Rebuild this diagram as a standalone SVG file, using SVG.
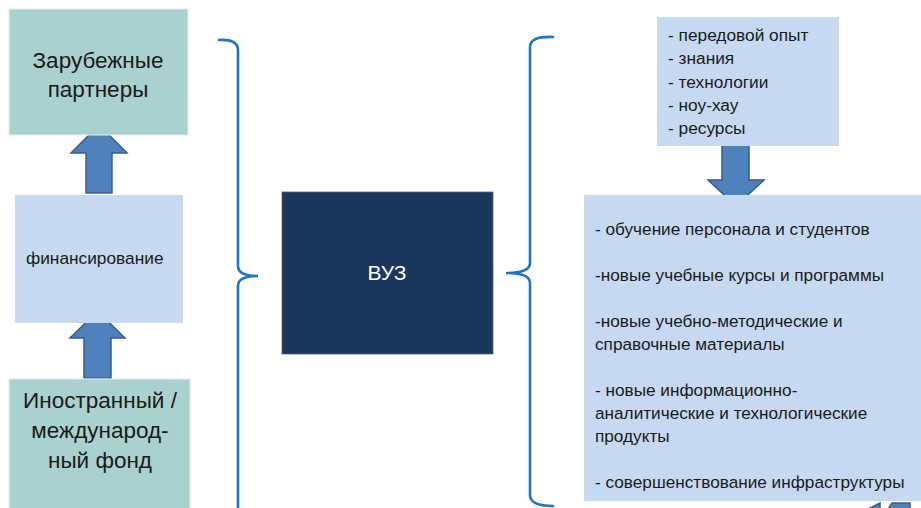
<svg xmlns="http://www.w3.org/2000/svg" width="921" height="508" viewBox="0 0 921 508">
  <style>
    .teal { fill: #a9d1cf; stroke: #e6efe9; stroke-width: 1; }
    .light { fill: #c6d9f1; }
    .dark { fill: #1a375e; stroke: #4a6488; stroke-width: 0.8; }
    .arrow { fill: #4f81bd; stroke: #385d8a; stroke-width: 1.5; stroke-linejoin: miter; }
    .brace { fill: none; stroke: #1b75c9; stroke-width: 2.6; stroke-linecap: round; }
    text { font-family: "Liberation Sans", Arial, sans-serif; fill: #1a1a1a; }
    .big { font-size: 22.5px; text-anchor: middle; }
    .mid { font-size: 17.3px; }
    .list { font-size: 17.2px; }
  </style>

  <rect width="921" height="508" fill="#ffffff"/>

  <g id="connectors">
    <!-- brace grouping the funding chain -->
    <path class="brace" d="M219,40 Q238,39 238,50 V266 Q238,276 258,276 Q238,276 238,286 V512"/>
    <!-- brace grouping the outcomes -->
    <path class="brace" d="M553,37 Q530,36 530,47 V263 Q530,273 506,273 Q530,273 530,283 V495 Q530,506 553,506"/>
    <!-- block arrows -->
    <polygon class="arrow" points="99,125 127,153 112,153 112,193 86,193 86,153 71,153"/>
    <polygon class="arrow" points="97.5,311 125,338 111,338 111,378 84,378 84,338 70,338"/>
    <polygon class="arrow" points="722,140 749,140 749,180 764,180 736,206 708,180 722,180"/>
    <!-- partially visible arrow at lower right -->
    <polygon class="arrow" points="862,512 880,503 880,512"/>
    <polygon class="arrow" points="886,512 892,503 910,503 910,512"/>
  </g>

  <g id="partners">
    <rect class="teal" x="9" y="9" width="179" height="126"/>
    <text class="big" x="98" y="68">Зарубежные</text>
    <text class="big" x="98" y="97">партнеры</text>
  </g>

  <g id="financing">
    <rect class="light" x="15" y="195" width="168" height="128"/>
    <text class="mid" x="26" y="264">финансирование</text>
  </g>

  <g id="fund">
    <rect class="teal" x="9" y="379" width="181" height="135"/>
    <text class="big" x="100" y="408">Иностранный /</text>
    <text class="big" x="100" y="438">международ-</text>
    <text class="big" x="100" y="468">ный фонд</text>
  </g>

  <g id="university">
    <rect class="dark" x="282" y="192" width="211" height="162"/>
    <text x="387" y="280" font-size="21" text-anchor="middle" style="fill:#ffffff">ВУЗ</text>
  </g>

  <g id="inputs">
    <rect class="light" x="657" y="17" width="182" height="129"/>
    <text class="mid" x="668" y="41">- передовой опыт</text>
    <text class="mid" x="668" y="64">- знания</text>
    <text class="mid" x="668" y="88">- технологии</text>
    <text class="mid" x="668" y="111">- ноу-хау</text>
    <text class="mid" x="668" y="134">- ресурсы</text>
  </g>

  <g id="outcomes">
    <rect class="light" x="584" y="195" width="337" height="306"/>
    <text class="list" x="595" y="235">- обучение персонала и студентов</text>
    <text class="list" x="595" y="281">-новые учебные курсы и программы</text>
    <text class="list" x="595" y="327">-новые учебно-методические и</text>
    <text class="list" x="595" y="350">справочные материалы</text>
    <text class="list" x="595" y="396">- новые информационно-</text>
    <text class="list" x="595" y="419">аналитические и технологические</text>
    <text class="list" x="595" y="442">продукты</text>
    <text class="list" x="595" y="488">- совершенствование инфраструктуры</text>
  </g>
</svg>
